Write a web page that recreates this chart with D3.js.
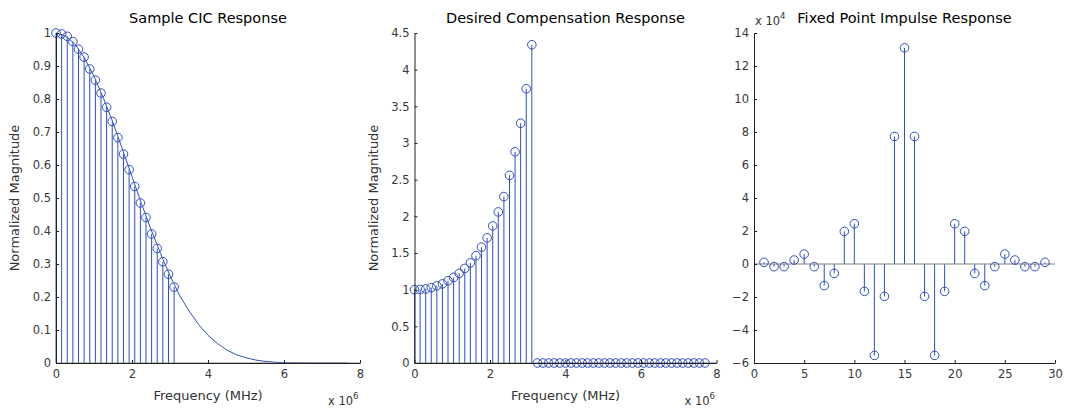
<!DOCTYPE html>
<html>
<head>
<meta charset="utf-8">
<script src="https://cdn.jsdelivr.net/npm/d3@7"></script>
<style>
  body { margin: 0; background: #fff; }
  text { font-family: "DejaVu Sans", Verdana, sans-serif; }
</style>
</head>
<body>
<div id="container"></div>
<script>
/** DATA (frequencies in units of 1e6 Hz, impulse values in units of 1e4) */
const sampleFreq = [0, 0.148, 0.296, 0.444, 0.592, 0.74, 0.888, 1.036, 1.184, 1.332, 1.48,
  1.628, 1.776, 1.924, 2.072, 2.22, 2.368, 2.516, 2.664, 2.812, 2.96, 3.108];
const cicSamples = [1.0, 0.997, 0.99, 0.974, 0.951, 0.927, 0.891, 0.857, 0.818, 0.775, 0.732,
  0.683, 0.633, 0.586, 0.535, 0.485, 0.441, 0.391, 0.347, 0.307, 0.269, 0.23];

const curveFreq = [0, 0.25, 0.5, 0.75, 1, 1.25, 1.5, 1.75, 2, 2.25, 2.5, 2.75, 3, 3.25, 3.5,
  3.75, 4, 4.25, 4.5, 4.75, 5, 5.25, 5.5, 5.75, 6, 6.5, 7, 7.68];
const curveMag = [1, 0.991, 0.966, 0.924, 0.869, 0.802, 0.728, 0.647, 0.565, 0.483, 0.405,
  0.332, 0.265, 0.205, 0.158, 0.117, 0.084, 0.059, 0.039, 0.025, 0.016, 0.009, 0.005, 0.0025,
  0.0011, 0.0002, 0, 0];

const passFreq = sampleFreq;
const compPass = [1.0, 1.003, 1.01, 1.027, 1.052, 1.079, 1.122, 1.167, 1.222, 1.29, 1.366,
  1.464, 1.58, 1.706, 1.869, 2.06, 2.27, 2.56, 2.88, 3.27, 3.74, 4.34];
const stopFreq = [3.256, 3.404, 3.552, 3.7, 3.848, 3.996, 4.144, 4.292, 4.44, 4.588, 4.736,
  4.884, 5.032, 5.18, 5.328, 5.476, 5.624, 5.772, 5.92, 6.068, 6.216, 6.364, 6.512, 6.66,
  6.808, 6.956, 7.104, 7.252, 7.4, 7.548, 7.696];
const compStop = stopFreq.map(() => 0);

const tapIndex = [1, 2, 3, 4, 5, 6, 7, 8, 9, 10, 11, 12, 13, 14, 15, 16, 17, 18, 19, 20, 21,
  22, 23, 24, 25, 26, 27, 28, 29];
const tapValue = [0.1, -0.16, -0.16, 0.24, 0.6, -0.16, -1.31, -0.57, 1.98, 2.44, -1.66, -5.54,
  -1.96, 7.73, 13.1, 7.73, -1.96, -5.54, -1.66, 2.44, 1.98, -0.57, -1.31, -0.16, 0.6, 0.24,
  -0.16, -0.16, 0.1];

const freqTicks = [0, 2, 4, 6, 8];
const cicTicks = [0, 0.1, 0.2, 0.3, 0.4, 0.5, 0.6, 0.7, 0.8, 0.9, 1];
const compTicks = [0, 0.5, 1, 1.5, 2, 2.5, 3, 3.5, 4, 4.5];
const tapXTicks = [0, 5, 10, 15, 20, 25, 30];
const tapYTicks = [-6, -4, -2, 0, 2, 4, 6, 8, 10, 12, 14];

/** CONSTANTS */
const width = 1070, height = 408;
const plotTop = 33, plotBottom = 363;
const blue = "#3050b8";
const fmt = d3.format("~g");

const svg = d3.select("#container").append("svg")
  .attr("width", width)
  .attr("height", height);

function makePanel(left, w, xDomain, yDomain) {
  const g = svg.append("g");
  const x = d3.scaleLinear().domain(xDomain).range([left, left + w]);
  const y = d3.scaleLinear().domain(yDomain).range([plotBottom, plotTop]);
  return { g, x, y, left, w };
}

function drawStems(p, xs, ys, base) {
  p.g.append("g").selectAll("line")
    .data(xs)
    .join("line")
    .attr("x1", (d) => p.x(d)).attr("x2", (d) => p.x(d))
    .attr("y1", p.y(base)).attr("y2", (d, i) => p.y(ys[i]))
    .attr("stroke", blue).attr("stroke-width", 1);
}

function drawCircles(p, xs, ys) {
  p.g.append("g").selectAll("circle")
    .data(xs)
    .join("circle")
    .attr("cx", (d) => p.x(d))
    .attr("cy", (d, i) => p.y(ys[i]))
    .attr("r", 4.3)
    .attr("fill", "none")
    .attr("stroke", blue).attr("stroke-width", 1);
}

function drawBaseline(p, val) {
  p.g.append("line")
    .attr("x1", p.x.range()[0]).attr("x2", p.x.range()[1])
    .attr("y1", p.y(val)).attr("y2", p.y(val))
    .attr("stroke", "#808080").attr("stroke-width", 1.2);
}

function drawAxes(p, xTicks, yTicks) {
  const ax = p.g.append("g")
    .attr("transform", `translate(0,${plotBottom})`)
    .call(d3.axisBottom(p.x).tickValues(xTicks).tickFormat(fmt)
      .tickSizeInner(-3).tickSizeOuter(0).tickPadding(7));
  const ay = p.g.append("g")
    .attr("transform", `translate(${p.left},0)`)
    .call(d3.axisLeft(p.y).tickValues(yTicks).tickFormat(fmt)
      .tickSizeInner(-3).tickSizeOuter(0).tickPadding(5));
  [ax, ay].forEach((a) => {
    a.select(".domain").attr("stroke", "#222");
    a.selectAll(".tick line").attr("stroke", "#222");
    a.selectAll(".tick text").attr("fill", "#383838")
      .style("font-size", "11.5px").style("font-family", '"DejaVu Sans", Verdana, sans-serif');
  });
}

function title(p, txt) {
  p.g.append("text")
    .attr("x", p.left + p.w / 2).attr("y", 23)
    .attr("text-anchor", "middle")
    .style("font-size", "14.5px").attr("fill", "#000")
    .text(txt);
}

function xLabel(p, txt) {
  p.g.append("text")
    .attr("x", p.left + p.w / 2).attr("y", 400)
    .attr("text-anchor", "middle")
    .style("font-size", "13px").attr("fill", "#333")
    .text(txt);
}

function yLabel(p, txt) {
  p.g.append("text")
    .attr("transform", `translate(${p.left - 37},${(plotTop + plotBottom) / 2}) rotate(-90)`)
    .attr("text-anchor", "middle")
    .style("font-size", "13px").attr("fill", "#333")
    .text(txt);
}

function exponent(p, x, y, power) {
  const t = p.g.append("text")
    .attr("x", x).attr("y", y)
    .style("font-size", "11.5px").attr("fill", "#333");
  t.append("tspan").text("x 10");
  t.append("tspan").attr("dy", -6).style("font-size", "8.5px").text(power);
}

/** PANEL 1: Sample CIC Response */
const p1 = makePanel(56, 304, [0, 8], [0, 1]);
p1.g.append("path")
  .datum(curveFreq)
  .attr("fill", "none")
  .attr("stroke", blue)
  .attr("stroke-width", 1)
  .attr("d", d3.line().x((d) => p1.x(d)).y((d, i) => p1.y(curveMag[i])));
drawStems(p1, sampleFreq, cicSamples, 0);
drawBaseline(p1, 0);
drawCircles(p1, sampleFreq, cicSamples);
drawAxes(p1, freqTicks, cicTicks);
title(p1, "Sample CIC Response");
xLabel(p1, "Frequency (MHz)");
yLabel(p1, "Normalized Magnitude");
exponent(p1, p1.left + p1.w - 32, 405, "6");

/** PANEL 2: Desired Compensation Response */
const p2 = makePanel(414.5, 302, [0, 8], [0, 4.5]);
drawStems(p2, passFreq, compPass, 0);
drawStems(p2, stopFreq, compStop, 0);
drawBaseline(p2, 0);
drawCircles(p2, passFreq, compPass);
drawCircles(p2, stopFreq, compStop);
drawAxes(p2, freqTicks, compTicks);
title(p2, "Desired Compensation Response");
xLabel(p2, "Frequency (MHz)");
yLabel(p2, "Normalized Magnitude");
exponent(p2, p2.left + p2.w - 32, 405, "6");

/** PANEL 3: Fixed Point Impulse Response */
const p3 = makePanel(754, 301, [0, 30], [-6, 14]);
drawStems(p3, tapIndex, tapValue, 0);
drawBaseline(p3, 0);
drawCircles(p3, tapIndex, tapValue);
drawAxes(p3, tapXTicks, tapYTicks);
title(p3, "Fixed Point Impulse Response");
exponent(p3, 755, 25, "4");
</script>
</body>
</html>
